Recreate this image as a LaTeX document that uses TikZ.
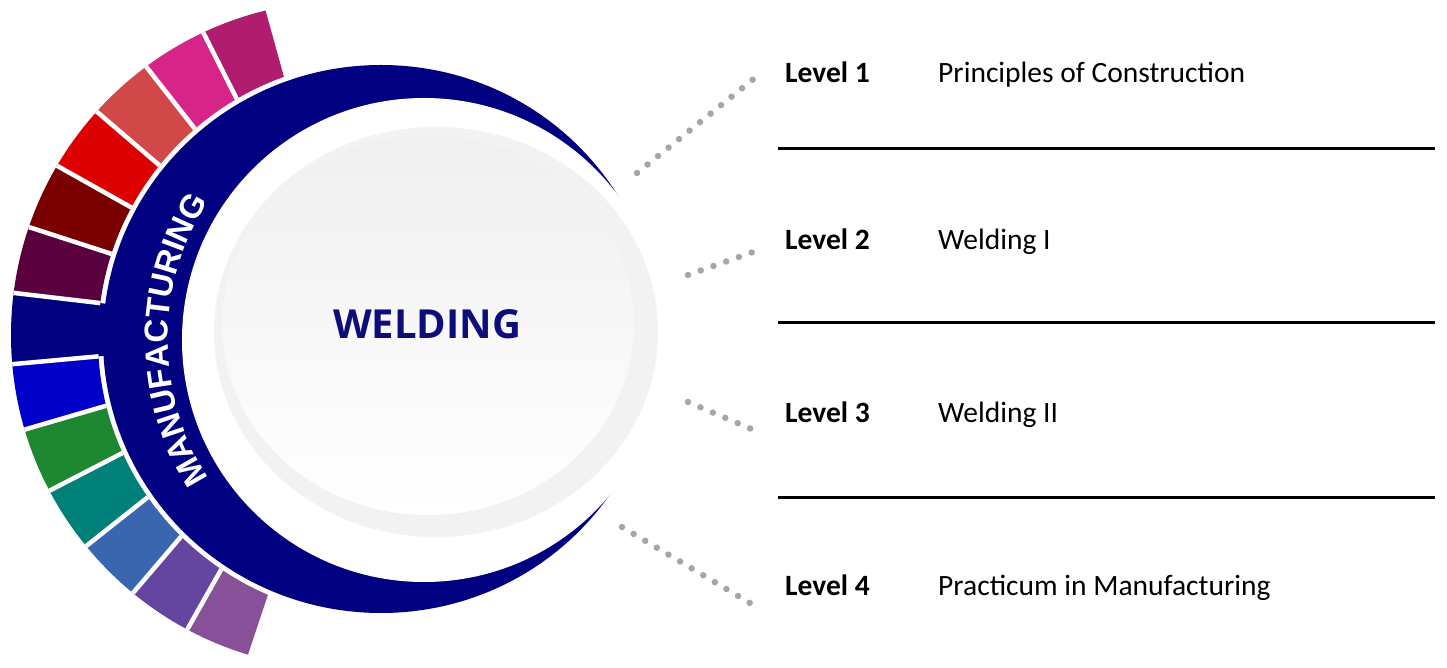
\documentclass[tikz,border=0pt]{standalone}
\usepackage{fontspec}
\setmainfont{Carlito}
\newfontfamily\weldfont{Open Sans}
\newfontfamily\bandfont{Liberation Sans}
\usepackage{tikz}
\usetikzlibrary{calc}
\usetikzlibrary{decorations.text}

\definecolor{navy}{RGB}{0,0,128}
\definecolor{weldblue}{RGB}{14,14,122}
\definecolor{dotgrey}{RGB}{166,166,166}
\definecolor{segA}{RGB}{176,28,110}
\definecolor{segB}{RGB}{214,36,136}
\definecolor{segC}{RGB}{208,72,72}
\definecolor{segD}{RGB}{221,0,0}
\definecolor{segE}{RGB}{122,0,0}
\definecolor{segF}{RGB}{90,0,62}
\definecolor{segG}{RGB}{0,0,200}
\definecolor{segH}{RGB}{30,135,50}
\definecolor{segI}{RGB}{0,128,120}
\definecolor{segJ}{RGB}{58,102,176}
\definecolor{segK}{RGB}{100,70,160}
\definecolor{segL}{RGB}{136,80,152}
\newcommand\bandtext{\bandfont\bfseries\fontsize{33}{33}\selectfont}

\begin{document}
\begin{tikzpicture}[x=1pt, y=1pt]
    \tikzstyle{lvl} = [text width=153pt, align=flush left, inner sep=0pt, text height=19pt, text depth=0pt, font=\fontsize{29.5}{35}\selectfont\bfseries];
    \tikzstyle{course} = [text width=490pt, align=flush left, inner sep=0pt, text height=19pt, text depth=0pt, font=\fontsize{29.5}{35}\selectfont];
    \tikzstyle{dotline} = [draw=dotgrey, line width=6.5pt, line cap=round, dash pattern=on 0pt off 13.5pt];
    \tikzstyle{sepline} = [draw, line width=3pt];
    \useasboundingbox (0,0) rectangle (1447,667);
    \coordinate (F) at (355,334);
    \coordinate (O) at (345,332);
    \coordinate (N) at (381,328);
    \coordinate (W) at (424,327);
    % navy tab between the two fans
    \begin{scope}
        \clip (O) circle[radius=334];
        \fill[navy] (F) -- +(173.3:420) -- +(185.2:420) -- cycle;
    \end{scope}
    % coloured blocks
    \begin{scope}[even odd rule]
        \clip (O) circle[radius=334] (N) ellipse[x radius=283, y radius=279];
        \foreach \a/\b/\c in {105.5/116.8/segA, 116.8/128.1/segB, 128.1/139.4/segC, 139.4/150.7/segD, 150.7/162/segE, 162/173.3/segF,
                              185.2/196.3/segG, 196.3/207.3/segH, 207.3/218.4/segI, 218.4/229.5/segJ, 229.5/240.5/segK, 240.5/251.6/segL}
            \fill[\c] (F) -- +(\a:420) -- +(\b:420) -- cycle;
        \foreach \a in {116.8, 128.1, 139.4, 150.7, 162, 173.3, 185.2, 196.3, 207.3, 218.4, 229.5, 240.5}
            \draw[white, line width=4.5pt] (F) -- +(\a:420);
    \end{scope}
    % crescent and disc
    \fill[navy] (N) ellipse[x radius=278, y radius=274];
    \fill[white] (W) circle[radius=242];
    \fill[black!5] (436,335) ellipse[x radius=222, y radius=205];
    \shade[top color=black!6, bottom color=white] (428,342) ellipse[x radius=206, y radius=190];
    \node[font=\weldfont\bfseries\fontsize{40}{48}\selectfont, text=weldblue] (weld) at (427,343) {WELDING};
    \path[decorate, decoration={text along path, text align=center, text color=white, text={|\bandtext|MANUFACTURING}}]
        ($(W)+(230:256)$) arc[start angle=230, end angle=130, radius=256];
    % levels
    \matrix[column sep=0pt, row sep=154pt, inner sep=0pt, anchor=north west] at (785,603.5)
    {
        \node[lvl] (L1) {Level 1}; & \node[course] (C1) {Principles of Construction}; \\[-7pt]
        \node[lvl] (L2) {Level 2}; & \node[course] (C2) {Welding I}; \\
        \node[lvl] (L3) {Level 3}; & \node[course] (C3) {Welding II}; \\
        \node[lvl] (L4) {Level 4}; & \node[course] (C4) {Practicum in Manufacturing}; \\
    };
    \foreach \y in {518,344,170}
        \draw[sepline] (778,\y) -- (1435,\y);
    \coordinate (d1s) at (637,494);
    \coordinate (d2s) at (688,392);
    \coordinate (d3s) at (688,265);
    \coordinate (d4s) at (622,140);
    \coordinate (d1e) at ([xshift=-27pt, yshift=-2pt]L1.west);
    \coordinate (d2e) at ([xshift=-28pt, yshift=-11pt]L2.west);
    \coordinate (d3e) at ([xshift=-27pt, yshift=-19pt]L3.west);
    \coordinate (d4e) at ([xshift=-25pt, yshift=-23pt]L4.west);
    \path[dotline] (d1s) -- (d1e);
    \path[dotline] (d2s) -- (d2e);
    \path[dotline] (d3s) -- (d3e);
    \path[dotline] (d4s) -- (d4e);
\end{tikzpicture}
\end{document}
